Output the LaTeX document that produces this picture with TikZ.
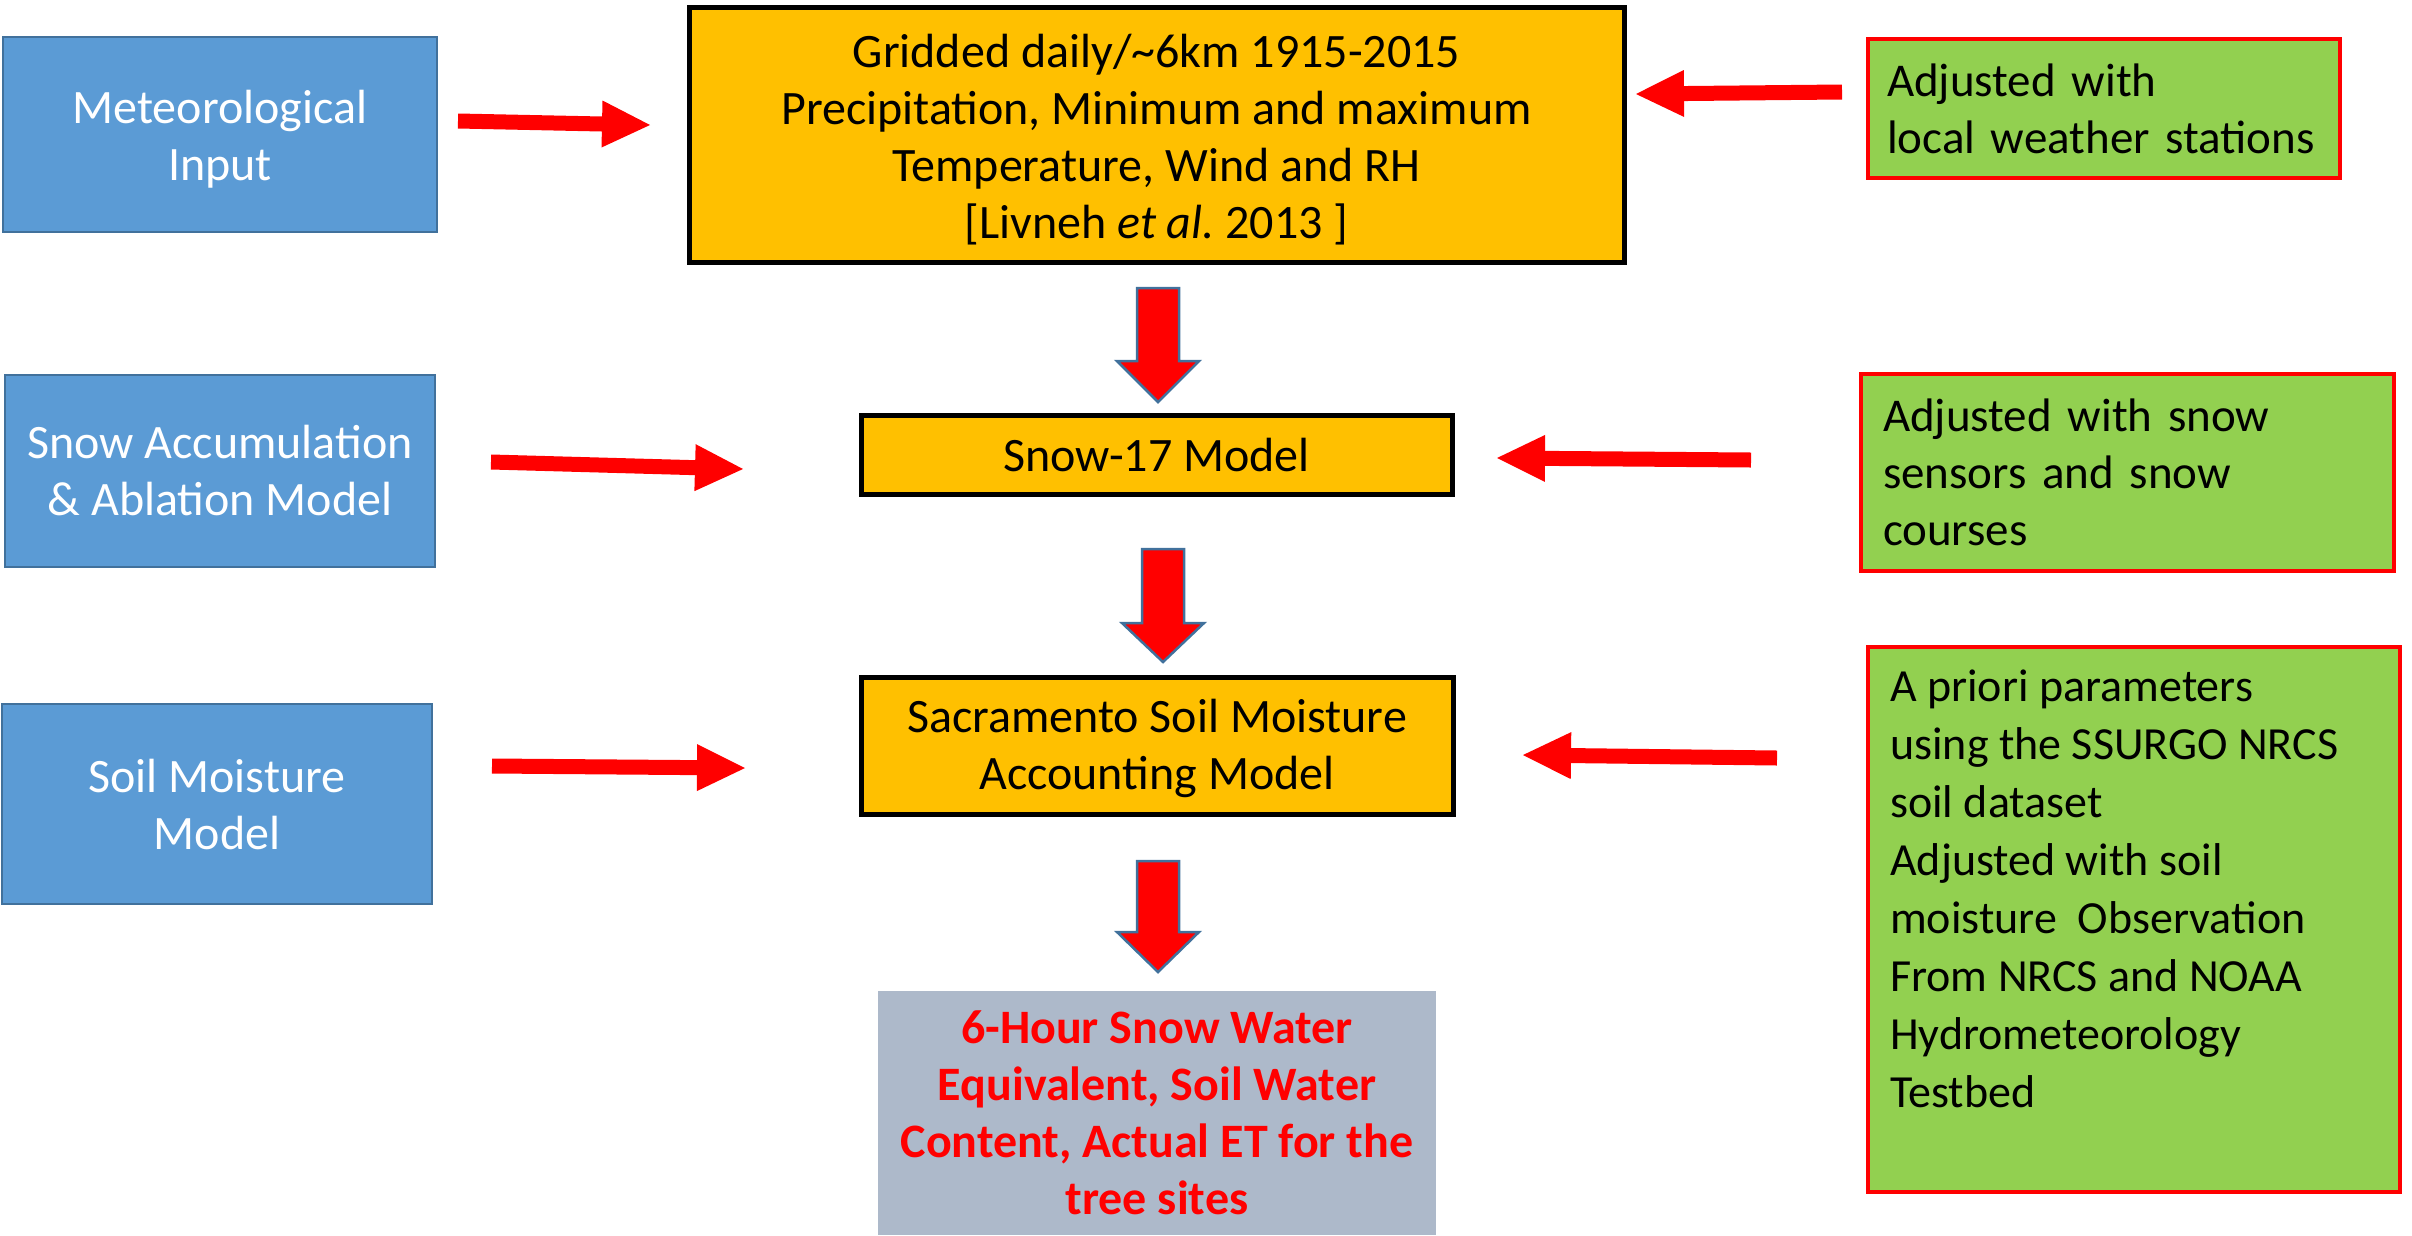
\documentclass[tikz,border=0pt]{standalone}
\usepackage{fontspec}
\setmainfont{Carlito}
\usetikzlibrary{arrows.meta}
\frenchspacing
\definecolor{inblue}{HTML}{5B9BD5}
\definecolor{inedge}{HTML}{41719C}
\definecolor{modorange}{HTML}{FFC000}
\definecolor{adjgreen}{HTML}{92D050}
\definecolor{outgrey}{HTML}{ADB9CA}
\newcommand{\bigtxt}{\fontsize{48pt}{57pt}\selectfont}
\newcommand{\grntxt}{\fontsize{47pt}{57pt}\selectfont}
\newcommand{\smltxt}{\fontsize{46pt}{58pt}\selectfont}
\newcommand{\blockdown}[4]{% cx, top, headstart, tip
  \filldraw[fill=red, draw=inedge, line width=2.5pt, line join=miter]
    (#1-21,#2) -- (#1+21,#2) -- (#1+21,#3) -- (#1+41,#3) -- (#1,#4)
    -- (#1-41,#3) -- (#1-21,#3) -- cycle;}
\begin{document}
\begin{tikzpicture}[x=1pt,y=-1pt,
  inbox/.style={draw=inedge, line width=2pt, fill=inblue, text=white,
    font=\bigtxt, align=center, inner sep=0pt},
  modelbox/.style={draw=black, line width=5pt, fill=modorange,
    font=\bigtxt, align=center, inner sep=0pt},
  adjbox/.style={draw=red, line width=4pt, fill=adjgreen,
    font=\grntxt, align=left, inner ysep=0pt},
  outbox/.style={fill=outgrey, text=red, font=\bigtxt\bfseries,
    align=center, inner xsep=0pt, inner ysep=20pt},
  harrow/.style={draw=red, line width=15pt,
    -{Triangle[length=48pt 0 0, width=47pt 0 0, line width=0pt]}}]
\useasboundingbox (0,0) rectangle (2412,1235);

% left input boxes
\node[inbox, minimum width=434pt, minimum height=195pt] (met) at (220,134.5)
  {\rule{0pt}{42pt}Meteorological\\Input};
\node[inbox, minimum width=430pt, minimum height=192pt] (snowacc) at (220,471)
  {Snow Accumulation\\\& Ablation Model};
\node[inbox, minimum width=430pt, minimum height=200pt] (soilm) at (217,804)
  {Soil Moisture\\Model};

% central model boxes
\node[modelbox, minimum width=935pt, minimum height=255pt] (grid) at (1156.5,134.5)
  {\rule{0pt}{44pt}Gridded daily/\textasciitilde6km 1915-2015\\Precipitation, Minimum and maximum\\Temperature, Wind and RH\\{[}Livneh \textit{et al.} 2013 ]};
\node[modelbox, minimum width=591pt, minimum height=79pt] (snow17) at (1156.5,454.5)
  {Snow-17 Model};
\node[modelbox, minimum width=592pt, minimum height=137pt] (sac) at (1157,745.5)
  {\rule{0pt}{40pt}Sacramento Soil Moisture\\Accounting Model};
\node[outbox, minimum width=558pt, anchor=north] (out) at (1157,991)
  {6-Hour Snow Water\\Equivalent, Soil Water\\Content, Actual ET for the\\tree sites};

% right adjustment boxes
\node[adjbox, inner xsep=19pt, text width=434pt, minimum height=139pt] (adj1) at (2104,108.5)
  {Adjusted with\\local weather stations};
\node[adjbox, inner xsep=22pt, text width=489pt, minimum height=197pt] (adj2) at (2127.5,472.5)
  {Adjusted with snow\\sensors and snow\\courses};
\node[draw=red, line width=4pt, fill=adjgreen, minimum width=532pt, minimum height=545pt,
  inner sep=0pt] (adj3) at (2134,919.5) {};
\node[font=\smltxt, align=left, anchor=base west, inner sep=0pt] (adj3t) at (1890,1107)
  {A priori parameters\\using the SSURGO NRCS\\soil dataset\\Adjusted with soil\\moisture\ \ Observation\\From NRCS and NOAA\\Hydrometeorology\\Testbed};

% horizontal arrows
\coordinate (a1s) at (458,121);  \coordinate (a1e) at (650,125);
\coordinate (a2s) at (491,462);  \coordinate (a2e) at (743,469);
\coordinate (a4s) at (492,766);  \coordinate (a4e) at (745,768);
\coordinate (a6s) at (1842,92);  \coordinate (a6e) at (1636,94);
\coordinate (a3s) at (1751,460); \coordinate (a3e) at (1497,458);
\coordinate (a5s) at (1777,758); \coordinate (a5e) at (1523,755);
\draw[harrow] (a1s) -- (a1e);
\draw[harrow] (a2s) -- (a2e);
\draw[harrow] (a4s) -- (a4e);
\draw[harrow] (a6s) -- (a6e);
\draw[harrow] (a3s) -- (a3e);
\draw[harrow] (a5s) -- (a5e);

% block down arrows
\blockdown{1158}{288}{361}{402}
\blockdown{1163}{549}{623}{662}
\blockdown{1158}{861}{932}{972}
\end{tikzpicture}
\end{document}
